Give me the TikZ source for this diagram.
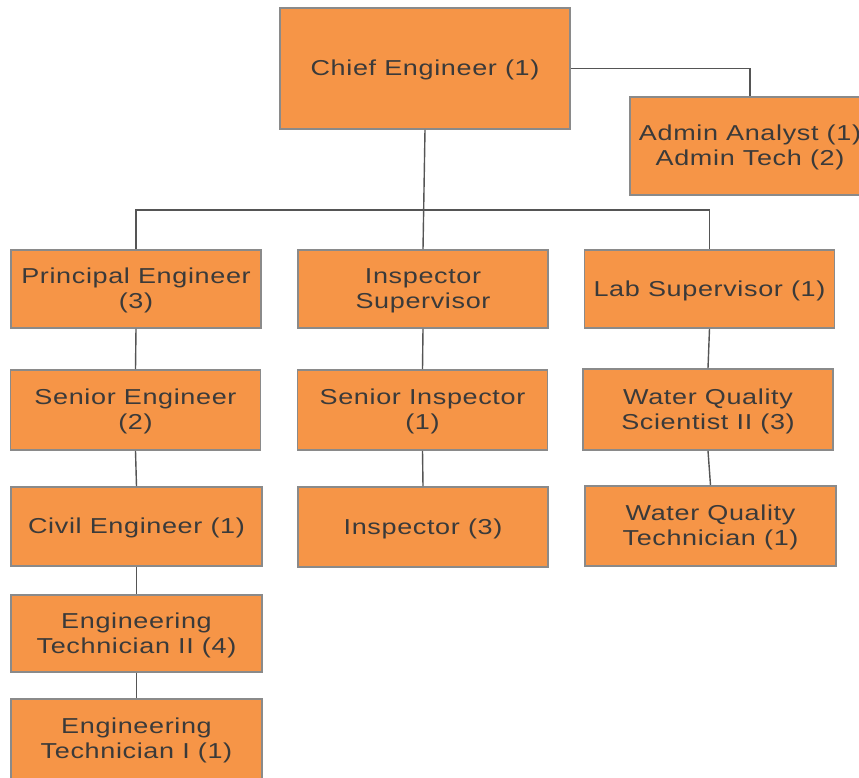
\documentclass[tikz,border=0pt]{standalone}
\usepackage{fontspec}
\setmainfont{Liberation Sans}[FakeStretch=1.25,LetterSpace=3]
\definecolor{boxfill}{HTML}{F69547}
\definecolor{boxedge}{HTML}{8A8A8A}
\definecolor{wire}{HTML}{555555}
\definecolor{ink}{HTML}{3A3A3A}
\begin{document}
\begin{tikzpicture}[x=1pt,y=-1pt,
  role/.style={draw=boxedge,line width=1.6pt,fill=boxfill,
    inner sep=0pt,minimum width=250pt,minimum height=79pt,
    label={[caption]center:{#1}}},
  caption/.style={align=center,inner sep=0pt,text=ink,yshift=-1.8pt,
    font=\fontsize{21.6pt}{25pt}\selectfont},
  link/.style={draw=wire,line width=1.4pt}]
\useasboundingbox (0,0) rectangle (859,777);
\clip (0,0) rectangle (859,777);

% top level
\node[role={Chief Engineer (1)},minimum width=290pt,minimum height=121pt] (chief) at (425,68.5) {};
\node[role={Admin Analyst (1)\\Admin Tech (2)},minimum width=240pt,minimum height=98pt] (admin) at (750,146) {};

% first row under the bus
\node[role={Principal Engineer\\(3)},minimum height=78pt] (principal) at (136,289) {};
\node[role={Inspector\\Supervisor},minimum height=78pt] (inspsup) at (423,289) {};
\node[role={Lab Supervisor (1)},minimum height=78pt] (labsup) at (709.5,289) {};

% second row
\node[role={Senior Engineer\\(2)},minimum height=80pt] (senioreng) at (135.5,410) {};
\node[role={Senior Inspector\\(1)},minimum height=80pt] (seniorinsp) at (422.5,410) {};
\node[role={Water Quality\\Scientist II (3)},minimum height=81pt] (wqs) at (708,409.5) {};

% third row
\node[role={Civil Engineer (1)},minimum width=251pt] (civil) at (136.5,526.5) {};
\node[role={Inspector (3)},minimum height=80pt] (inspector) at (423,527) {};
\node[role={Water Quality\\Technician (1)},minimum width=251pt,minimum height=80pt] (wqt) at (710.5,526) {};

% engineering technicians
\node[role={Engineering\\Technician II (4)},minimum width=251pt,minimum height=77pt] (techii) at (136.5,633.5) {};
\node[role={Engineering\\Technician I (1)},minimum width=251pt,minimum height=80pt] (techi) at (136.5,739) {};

% connectors
\coordinate (bus) at (0,210);
\draw[link] (chief.east) -| (admin.north);
\draw[link] (chief.south) -- (inspsup.north);
\draw[link] (principal.north) -- (principal.north |- bus) -- (labsup.north |- bus) -- (labsup.north);

\draw[link] (principal.south) -- (senioreng.north);
\draw[link] (senioreng.south) -- (civil.north);
\draw[link] (civil.south) -- (techii.north);
\draw[link] (techii.south) -- (techi.north);

\draw[link] (inspsup.south) -- (seniorinsp.north);
\draw[link] (seniorinsp.south) -- (inspector.north);

\draw[link] (labsup.south) -- (wqs.north);
\draw[link] (wqs.south) -- (wqt.north);
\end{tikzpicture}
\end{document}
